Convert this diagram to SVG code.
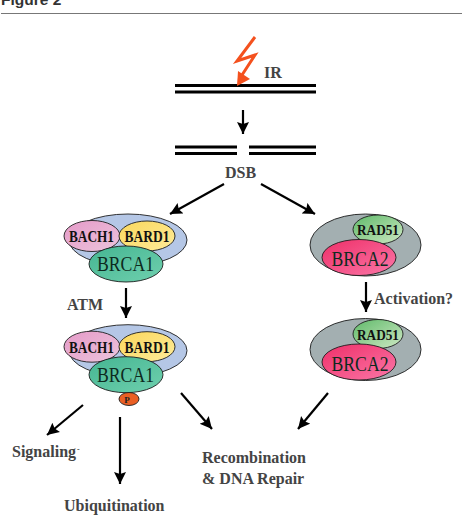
<svg xmlns="http://www.w3.org/2000/svg" width="462" height="516" viewBox="0 0 462 516">
<style>
.h{font:bold 15.500px "Liberation Sans",Arial,sans-serif;fill:#333}
.l{font:bold 16px "Liberation Serif","Times New Roman",serif;fill:#444}
.s{font:bold 16px "Liberation Serif","Times New Roman",serif;fill:#111;text-anchor:middle}
.b{font:20px "Liberation Serif","Times New Roman",serif;fill:#0d2a20;text-anchor:middle}
.e{stroke:#1d1d1d;stroke-width:.9}
.dna{stroke:#000;stroke-width:3;fill:none}
.a{stroke:#000;stroke-width:2.200;fill:none;marker-end:url(#ah)}
</style>
<defs>
<marker id="ah" markerUnits="userSpaceOnUse" markerWidth="14" markerHeight="14" refX="12" refY="6.500" orient="auto"><path d="M0,0.500L12,6.500L0,12.500L2,6.500Z" fill="#000"/></marker>
<linearGradient id="gPink" x1="0" y1="0" x2="1" y2="1"><stop offset="0" stop-color="#e59ac8"/><stop offset="1" stop-color="#ecc4dc"/></linearGradient>
<linearGradient id="gYellow" x1="0" y1="0" x2="1" y2="1"><stop offset="0" stop-color="#fbd75c"/><stop offset="1" stop-color="#fdeb9a"/></linearGradient>
<linearGradient id="gTeal" x1="0" y1="0" x2="1" y2="1"><stop offset="0" stop-color="#45b592"/><stop offset="1" stop-color="#6fd0ae"/></linearGradient>
<linearGradient id="gGreen" x1="0" y1="0" x2="1" y2="1"><stop offset="0" stop-color="#5fba6a"/><stop offset="1" stop-color="#cfe9c4"/></linearGradient>
<linearGradient id="gRose" x1="0" y1="0" x2="1" y2="1"><stop offset="0" stop-color="#ee2f68"/><stop offset="1" stop-color="#fb77a8"/></linearGradient>
<g id="brca1Complex">
<ellipse class="e" cx="128" cy="240" rx="59" ry="26" fill="#b5c7e6"/>
<ellipse class="e" cx="92" cy="236" rx="28" ry="15.500" fill="url(#gPink)"/>
<ellipse class="e" cx="147" cy="236" rx="28" ry="15" fill="url(#gYellow)"/>
<ellipse class="e" cx="126" cy="264" rx="37" ry="18" fill="url(#gTeal)"/>
<text class="s" x="91.500" y="242" textLength="45" lengthAdjust="spacingAndGlyphs">BACH1</text>
<text class="s" x="147" y="242" textLength="45" lengthAdjust="spacingAndGlyphs">BARD1</text>
<text class="b" x="125.500" y="271" textLength="57" lengthAdjust="spacingAndGlyphs">BRCA1</text>
</g>
<g id="brca2Complex">
<ellipse class="e" cx="365.500" cy="245" rx="55.500" ry="31" fill="#a3afb1"/>
<ellipse class="e" cx="378" cy="229.500" rx="25" ry="14.500" fill="url(#gGreen)"/>
<ellipse class="e" cx="359" cy="257.500" rx="37" ry="18" fill="url(#gRose)"/>
<text class="s" x="378" y="235" style="font-size:15px" textLength="42" lengthAdjust="spacingAndGlyphs">RAD51</text>
<text class="b" x="360" y="266" textLength="57" lengthAdjust="spacingAndGlyphs">BRCA2</text>
</g>
</defs>
<rect width="462" height="516" fill="#fff"/>
<g id="header">
<text class="h" x="1" y="5">Figure 2</text>
<path d="M1,13.500H462" stroke="#777" stroke-width="1.200"/>
</g>
<g id="dna-intact"><path class="dna" d="M175,85.500H316M175,92H316"/></g>
<g id="dna-broken"><path class="dna" d="M175,147H237M249,147H316M175,153.500H237M249,153.500H316"/></g>
<g id="bolt"><path d="M255,37L237,61L255,55L242,75" fill="none" stroke="#f4511e" stroke-width="3"/><path d="M237,86L238,71L250,79Z" fill="#f4511e"/></g>
<g id="label-ir"><text class="l" x="264" y="78">IR</text></g>
<g id="label-dsb"><text class="l" x="225" y="178">DSB</text></g>
<g id="bach-bard-brca1"><use href="#brca1Complex"/></g>
<g id="bach-bard-brca1-p"><use href="#brca1Complex" y="110.700"/>
<ellipse class="e" cx="129" cy="399" rx="10" ry="6.500" fill="#ea5f24"/>
<text x="127" y="403" text-anchor="middle" style="font:bold 9px 'Liberation Serif',serif" fill="#222">P</text></g>
<g id="rad51-brca2"><use href="#brca2Complex"/></g>
<g id="rad51-brca2-active"><use href="#brca2Complex" y="104.500"/></g>
<g id="label-atm"><text class="l" x="67" y="310">ATM</text></g>
<g id="label-activation"><text class="l" x="374" y="304">Activation?</text></g>
<g id="label-signaling"><text class="l" x="12" y="457">Signaling</text><text class="l" x="77" y="452" style="font-size:8px">-</text></g>
<g id="label-ubiquitination"><text class="l" x="64" y="511">Ubiquitination</text></g>
<g id="label-repair"><text class="l" x="202" y="463">Recombination</text><text class="l" x="202" y="484">&amp; DNA Repair</text></g>
<g id="connectors">
<path class="a" d="M243,110V134"/>
<path class="a" d="M224,184L170,214"/>
<path class="a" d="M261,184L315,214"/>
<path class="a" d="M126,288V318"/>
<path class="a" d="M366,282V312"/>
<path class="a" d="M83,405L47,435"/>
<path class="a" d="M120,417V484"/>
<path class="a" d="M181,393L212,429"/>
<path class="a" d="M328,393L298,429"/>
</g>
</svg>
